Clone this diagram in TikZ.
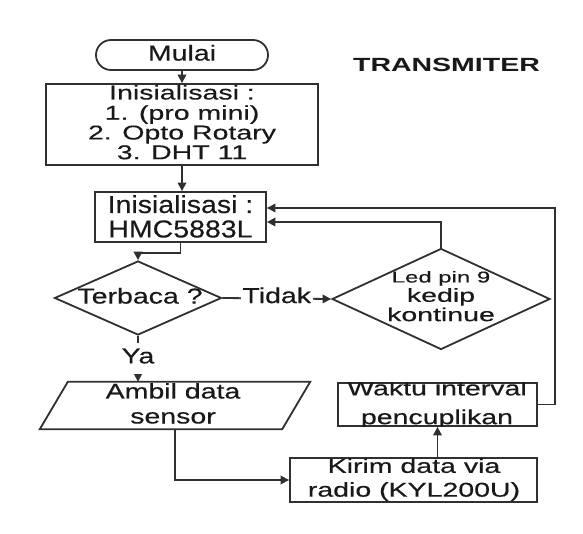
\documentclass[tikz,border=0pt]{standalone}
\usepackage{fontspec}
\setmainfont{Liberation Sans}[FakeBold=0.3]
\newfontfamily\titlefont{Liberation Sans Bold}
\usepackage{graphicx}
\usetikzlibrary{arrows.meta,shapes.geometric,shapes.misc,calc}
\definecolor{lc}{HTML}{303030}
\newcommand\sq[3]{\scalebox{1}[#1]{\fontsize{28.5}{#2}\selectfont\begin{tabular}{@{}c@{}}#3\end{tabular}}}
\tikzset{
  boxnode/.style={draw=lc, line width=1.8pt, rectangle, inner sep=0pt},
  termnode/.style={draw=lc, line width=1.8pt, rounded rectangle, inner sep=0pt},
  decnode/.style={draw=lc, line width=1.8pt, diamond, inner sep=0pt},
  txt/.style={inner sep=0pt, text=black!90},
  conn/.style={draw=lc, line width=1.8pt, -{Triangle[length=8.5pt,width=8.5pt]}},
  lbl/.style={fill=white, inner xsep=1.5pt, inner ysep=4pt, text=black!90}
}
\begin{document}
\begin{tikzpicture}[x=1pt,y=-1pt]
\useasboundingbox[fill=white] (0,0) rectangle (583,534);

% shapes
\node[termnode, minimum width=172pt, minimum height=30pt] (mulai) at (182,55) {};
\node[txt] (mulaitxt) at (182,56) {\sq{0.76}{30}{Mulai}};

\node[boxnode, minimum width=272pt, minimum height=81pt] (init1) at (182,124.5) {};
\node[txt] (init1txt) at (182,125) {\sq{0.70}{27.6}{Inisialisasi :\\1. (pro mini)\\2. Opto Rotary\\3. DHT 11}};

\node[boxnode, minimum width=171pt, minimum height=50pt] (hmc) at (180.5,217) {};
\node[txt] (hmctxt) at (180.5,220) {\sq{0.86}{28.4}{Inisialisasi :\\HMC5883L}};

\node[decnode, minimum width=167pt, minimum height=74pt] (terbaca) at (138,298) {};
\node[txt] (terbacatxt) at (140,299) {\sq{0.76}{30}{Terbaca ?}};

\node[decnode, minimum width=218pt, minimum height=101pt] (led) at (441,299) {};
\node[txt] (ledtxt) at (441,298) {\fontsize{28.5}{19}\selectfont\begin{tabular}{@{}c@{}}\scalebox{0.84}[0.55]{Led pin 9}\\ \scalebox{1}[0.66]{kedip}\\ \scalebox{1}[0.66]{kontinue}\end{tabular}};

\node[rectangle, inner sep=0pt, minimum width=242pt, minimum height=47pt] (ambil) at (175,405.5) {};
\draw[draw=lc, line width=1.8pt, line join=miter]
  ($(ambil.north west)+(14,0)$) -- ($(ambil.north east)+(14,0)$) --
  ($(ambil.south east)+(-14,0)$) -- ($(ambil.south west)+(-14,0)$) -- cycle;
\node[txt] (ambiltxt) at (173,406) {\sq{0.74}{33.8}{Ambil data\\sensor}};

\node[boxnode, minimum width=199pt, minimum height=43pt] (waktu) at (437.5,404.5) {};
\begin{scope}
  \clip (waktu.north west) rectangle (waktu.south east);
  \node[txt] (waktutxt) at (437,404) {\sq{0.72}{40}{Waktu interval\\pencuplikan}};
\end{scope}

\node[boxnode, minimum width=247pt, minimum height=44pt] (kirim) at (413.5,480) {};
\node[txt] (kirimtxt) at (414,480) {\sq{0.70}{34}{Kirim data via\\radio (KYL200U)}};

\node[txt] (title) at (446.5,65) {\scalebox{1}[0.67]{\fontsize{28.5}{30}\selectfont\titlefont TRANSMITER}};

% connectors
\draw[conn] (mulai.south) -- (mulai.south |- init1.north);
\draw[conn] (init1.south -| mulai.south) -- (hmc.north -| mulai.south);
\coordinate (hb) at ($(hmc.south)+(0,10)$);
\draw[conn] (hmc.south) -- (hb) -| (terbaca.north);
\draw[conn] (terbaca.east) -- node[lbl] {\sq{0.76}{30}{Tidak}} (led.west);
\draw[conn] (led.north) |- ($(hmc.east)+(0,5)$);
\draw[conn] (terbaca.south) -- node[lbl, pos=0.5] {\sq{0.76}{30}{Ya}} (terbaca.south |- ambil.north);
\draw[conn] (ambil.south) |- (kirim.west);
\draw[conn] (waktu.south |- kirim.north) -- (waktu.south);
\coordinate (rt) at (555,208);
\draw[conn] (waktu.east) -| (rt) -- ($(hmc.east)+(0,-9)$);
\end{tikzpicture}
\end{document}
